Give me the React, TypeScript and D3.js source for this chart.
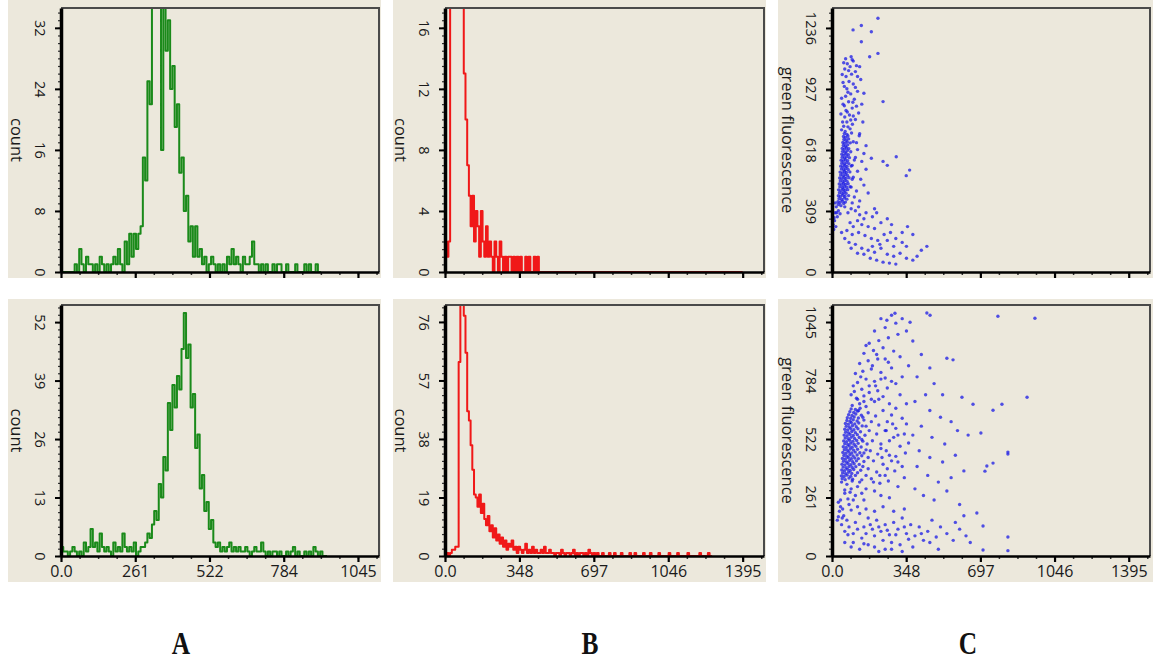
import { useEffect, useRef } from "react";
import * as d3 from "d3";

// channel width of every histogram bin
const binWidth = 8;

// green fluorescence histograms (column A)
const greenTop = [
  0, 0, 0, 0, 0, 0, 1, 0, 3, 1, 0, 2, 1, 1, 0, 1, 0, 2, 1, 0, 1, 0, 1, 2, 1, 3, 1, 0,
  4, 1, 5, 2, 5, 3, 5, 6, 15, 12, 25, 22, 38, 36, 40, 37, 16, 36, 29, 33, 24, 27, 19,
  22, 13, 15, 8, 10, 4, 6, 2, 6, 2, 3, 1, 2, 0, 1, 2, 1, 0, 1, 0, 1, 0, 2, 1, 3, 1, 2, 1,
  0, 2, 1, 1, 2, 4, 1, 1, 0, 1, 0, 1, 0, 0, 1, 0, 1, 1, 0, 0, 1, 0, 0, 0, 1, 0, 0, 0, 1,
  0, 1, 0, 0, 1, 0,
];
const greenBottom = [
  2, 1, 1, 0, 1, 2, 1, 0, 1, 0, 3, 1, 2, 6, 2, 3, 1, 5, 2, 1, 2, 1, 0, 3, 1, 2, 1, 5, 2,
  1, 2, 1, 3, 0, 1, 2, 2, 3, 5, 4, 7, 10, 8, 16, 13, 22, 19, 34, 28, 38, 33, 40, 37, 46,
  54, 44, 47, 33, 36, 24, 27, 15, 18, 10, 12, 6, 8, 3, 2, 3, 1, 2, 1, 2, 3, 1, 2, 1, 2, 1,
  1, 2, 1, 0, 1, 2, 1, 1, 3, 1, 0, 1, 0, 1, 1, 0, 1, 0, 0, 1, 0, 1, 2, 0, 1, 0, 0, 1, 0,
  1, 0, 2, 1, 0, 1, 0, 0,
];

// red fluorescence histograms (column B)
const redTop = [
  2, 1, 2, 30, 45, 60, 52, 48, 40, 32, 18, 13, 10, 7, 5, 3, 5, 2, 4, 3, 1, 4, 2, 1, 3, 1,
  2, 1, 0, 2, 1, 0, 2, 1, 0, 1, 0, 1, 1, 0, 1, 0, 1, 0, 1, 0, 0, 1, 0, 1, 0, 0, 1, 0, 1,
  0, 0,
];
const redBottom = [
  0, 1, 0, 1, 2, 2, 3, 3, 63, 95, 88, 78, 66, 47, 44, 36, 28, 20, 19, 16, 20, 14, 17, 12,
  10, 13, 8, 10, 6, 9, 5, 7, 4, 6, 3, 5, 2, 4, 3, 5, 2, 3, 1, 3, 2, 1, 2, 4, 1, 2, 1, 3,
  1, 2, 1, 1, 2, 1, 3, 1, 1, 2, 1, 1, 0, 1, 1, 0, 2, 1, 0, 1, 1, 0, 1, 2, 0, 1, 0, 1, 1,
  0, 1, 0, 2, 1, 0, 1, 0, 1, 0, 0, 1, 0, 0, 0, 1, 0, 0, 1, 0, 0, 0, 1, 0, 0, 0, 0, 1, 0,
  0, 1, 0, 0, 0, 0, 1, 0, 0, 0, 1, 0, 0, 0, 0, 1, 0, 0, 0, 0, 0, 1, 0, 0, 0, 0, 1, 0, 0,
  0, 0, 0, 1, 0, 0, 0, 0, 0, 0, 1, 0, 0, 0, 0, 1, 0,
];

// channel where each flat zero baseline stops
const greenTopEnd = 905;
const greenBottomEnd = 936;
const redTopEnd = 1395;
const redBottomEnd = 1245;

// red (x) vs green (y) fluorescence events (column C)
const dotsTop: [number, number][] = [
  [30, 342], [42, 336], [55, 347], [28, 356], [38, 352], [50, 359], [63, 354],
  [33, 371], [45, 367], [58, 374], [70, 369], [30, 386], [40, 382], [52, 389],
  [61, 384], [78, 387], [35, 401], [47, 397], [56, 404], [66, 399], [31, 416],
  [43, 412], [53, 419], [62, 414], [74, 417], [37, 431], [49, 427], [58, 434],
  [69, 429], [85, 432], [34, 446], [45, 442], [55, 449], [64, 444], [76, 447],
  [39, 461], [51, 457], [60, 464], [71, 459], [36, 476], [47, 472], [57, 479],
  [66, 474], [80, 477], [95, 470], [41, 491], [52, 487], [62, 494], [73, 489],
  [38, 506], [49, 502], [59, 509], [68, 504], [84, 507], [44, 521], [55, 517],
  [64, 524], [76, 519], [41, 536], [51, 532], [61, 539], [71, 534], [90, 537],
  [46, 551], [57, 547], [67, 554], [79, 549], [43, 566], [53, 562], [63, 569],
  [74, 564], [105, 567], [48, 581], [59, 577], [69, 584], [82, 579], [46, 596],
  [56, 592], [66, 599], [77, 594], [50, 611], [61, 607], [72, 614], [88, 609],
  [48, 626], [58, 622], [68, 629], [79, 624], [53, 641], [63, 637], [74, 644],
  [51, 656], [61, 652], [72, 659], [86, 654], [56, 671], [66, 667], [78, 674],
  [54, 686], [64, 682], [75, 689], [58, 701], [70, 697], [92, 704],
  [62, 712], [85, 725], [55, 738], [96, 748], [70, 760], [110, 772], [60, 785],
  [82, 795], [125, 805], [66, 818], [95, 830], [58, 842], [140, 850], [78, 862],
  [105, 875], [64, 890], [88, 902], [120, 915], [70, 928], [58, 940], [100, 952],
  [80, 965], [135, 975], [66, 990], [92, 1002], [110, 1015], [60, 1028], [85, 1040],
  [72, 1055], [100, 1068], [64, 1080], [90, 1090], [115, 1045], [150, 905],
  [240, 863], [130, 700], [145, 760], [160, 640], [150, 600], [185, 576],
  [115, 655], [128, 690], [216, 1285], [99, 1226], [138, 1248], [185, 1217],
  [138, 1166], [177, 1090], [216, 1107], [302, 584], [365, 516], [349, 488],
  [240, 560], [260, 540], [5, 240], [12, 260], [8, 215], [18, 230], [25, 280],
  [15, 300], [30, 310], [38, 295], [10, 275], [60, 330], [90, 320], [75, 300],
  [110, 310], [130, 290], [160, 300], [120, 260], [150, 270], [190, 280],
  [210, 300], [85, 250], [100, 230], [140, 240], [170, 230], [200, 220], [230, 250],
  [260, 270], [280, 240], [70, 210], [95, 190], [125, 200], [155, 185], [185, 170],
  [215, 160], [245, 190], [275, 200], [300, 170], [330, 150], [350, 130], [380, 190],
  [420, 110], [446, 130], [60, 170], [80, 150], [110, 140], [140, 120], [170, 110],
  [200, 100], [230, 120], [260, 90], [290, 80], [320, 95], [350, 70], [380, 60],
  [150, 90], [180, 70], [210, 60], [240, 50], [270, 45], [300, 40], [120, 95],
  [90, 120], [400, 80], [330, 200], [355, 230], [290, 130], [225, 140], [260, 160],
  [190, 130], [45, 200],
  [45, 720], [75, 735], [50, 760], [88, 770], [42, 800], [72, 810], [100, 790],
  [52, 850], [115, 840], [45, 880], [98, 860], [75, 910], [52, 960], [110, 935],
  [48, 1000], [78, 1020], [120, 990], [55, 1060], [95, 1075], [130, 1040],
  [100, 660], [120, 620], [110, 580], [140, 560], [95, 540], [120, 510], [160, 520],
  [100, 480], [135, 470], [90, 430], [115, 410], [150, 440], [105, 380], [130, 360],
  [170, 400], [95, 350], [125, 330], [200, 320], [20, 330], [22, 300], [15, 350],
];

const dotsBottom: [number, number][] = [
  [48, 345], [62, 341], [80, 348], [97, 343], [44, 358], [57, 355], [71, 361],
  [88, 356], [110, 360], [50, 371], [64, 368], [78, 374], [93, 369], [120, 372],
  [46, 384], [59, 381], [73, 387], [86, 382], [102, 386], [135, 383], [52, 397],
  [66, 394], [80, 400], [95, 395], [112, 399], [47, 410], [61, 407], [75, 413],
  [89, 408], [104, 412], [128, 409], [54, 423], [68, 420], [82, 426], [97, 421],
  [115, 425], [150, 422], [49, 436], [63, 433], [77, 439], [91, 434], [107, 438],
  [124, 435], [56, 449], [70, 446], [84, 452], [99, 447], [118, 451], [140, 448],
  [51, 462], [65, 459], [79, 465], [93, 460], [109, 464], [131, 461], [58, 475],
  [72, 472], [86, 478], [101, 473], [120, 477], [160, 474], [53, 488], [67, 485],
  [81, 491], [95, 486], [112, 490], [137, 487], [60, 501], [74, 498], [88, 504],
  [104, 499], [123, 503], [55, 514], [69, 511], [83, 517], [98, 512], [116, 516],
  [145, 513], [62, 527], [76, 524], [90, 530], [106, 525], [128, 529], [57, 540],
  [71, 537], [85, 543], [100, 538], [119, 542], [155, 539], [64, 553], [78, 550],
  [93, 556], [110, 551], [134, 555], [60, 566], [74, 563], [88, 569], [103, 564],
  [122, 568], [67, 579], [81, 576], [96, 582], [114, 577], [142, 581], [63, 592],
  [77, 589], [91, 595], [107, 590], [126, 594], [70, 605], [85, 602], [100, 608],
  [118, 603], [150, 607], [72, 618], [88, 615], [104, 621], [124, 616], [78, 631],
  [94, 628], [112, 634], [138, 629], [84, 644], [102, 641], [120, 647], [90, 657],
  [110, 654], [132, 660],
  [95, 672], [130, 680], [160, 668], [200, 690], [115, 705], [150, 715], [185, 700],
  [240, 712], [105, 735], [140, 745], [175, 760], [215, 738], [260, 750], [120, 775],
  [160, 790], [200, 780], [250, 795], [300, 770], [110, 815], [145, 825], [185, 835],
  [230, 820], [280, 840], [130, 860], [170, 872], [215, 880], [265, 865], [320, 890],
  [150, 905], [195, 918], [240, 930], [290, 915], [175, 950], [220, 962], [265, 975],
  [310, 990], [200, 1005], [250, 1020], [300, 1040], [230, 1060], [280, 1075],
  [350, 1005], [330, 1060], [258, 1053], [296, 1084], [367, 1044], [446, 1085],
  [461, 1075], [540, 883], [569, 876], [611, 709],
  [170, 640], [205, 625], [240, 650], [280, 630], [330, 615], [185, 600], [220, 585],
  [260, 600], [300, 570], [350, 590], [175, 560], [210, 545], [250, 560], [290, 530],
  [340, 545], [190, 515], [230, 500], [270, 515], [320, 490], [360, 505], [180, 470],
  [215, 455], [255, 470], [300, 445], [345, 460], [195, 425], [240, 410], [280, 425],
  [330, 400], [170, 390], [210, 375], [250, 360], [295, 380], [340, 350], [185, 345],
  [225, 325], [265, 335], [310, 310], [160, 300], [200, 290],
  [45, 330], [70, 320], [95, 335], [120, 310], [60, 295], [85, 285], [110, 270],
  [140, 280], [230, 270], [270, 260], [40, 250], [75, 255], [150, 250],
  [380, 960], [420, 900], [460, 840], [400, 800], [480, 770], [520, 720], [440, 720],
  [390, 690], [460, 650], [510, 620], [560, 600], [420, 580], [380, 540], [470, 530],
  [530, 500], [590, 560], [640, 540], [410, 470], [460, 440], [520, 420], [580, 450],
  [400, 400], [450, 360], [500, 330], [560, 350], [620, 380], [390, 300], [430, 270],
  [480, 250], [540, 290], [600, 230], [663, 678], [757, 651], [799, 678], [917, 709],
  [700, 549], [827, 464], [827, 455], [728, 402], [757, 415], [719, 379], [780, 1071],
  [954, 1062], [681, 192], [710, 134], [827, 85], [710, 27], [827, 24],
  [40, 220], [55, 180], [30, 175], [70, 160], [90, 205], [110, 150], [130, 190],
  [150, 130], [170, 170], [190, 120], [210, 160], [230, 110], [250, 140], [270, 95],
  [290, 150], [310, 120], [330, 170], [350, 100], [370, 140], [390, 90], [410, 130],
  [430, 70], [450, 110], [470, 160], [490, 85], [510, 130], [540, 100], [570, 70],
  [600, 120], [630, 90], [60, 110], [80, 130], [100, 100], [120, 120], [140, 80],
  [160, 100], [180, 140], [200, 90], [220, 130], [240, 70], [260, 115], [280, 60],
  [300, 95], [320, 50], [340, 130], [360, 75], [380, 40], [420, 100], [460, 60],
  [500, 30], [200, 40], [150, 55], [250, 30], [100, 60], [330, 20], [580, 150],
  [620, 180], [650, 60], [45, 140], [75, 95], [30, 240], [35, 200], [48, 170], [25, 160],
  [150, 690], [125, 650], [145, 620], [160, 580], [140, 520], [165, 500], [150, 460],
  [170, 440], [145, 400], [160, 360], [140, 340], [120, 700], [100, 760], [135, 800],
  [90, 720], [175, 730], [205, 760], [230, 790], [190, 850], [160, 940], [210, 900],
  [250, 880], [220, 700], [270, 680], [300, 660], [320, 720], [350, 680], [280, 780],
  [330, 800], [360, 850], [255, 560], [285, 590], [310, 540], [230, 480], [270, 450],
  [310, 420], [235, 440], [260, 390], [225, 360], [195, 330], [60, 280], [90, 300],
  [130, 330], [100, 250], [50, 210], [80, 230], [120, 220], [160, 210], [200, 200],
  [240, 220], [290, 200], [340, 210], [60, 60], [90, 40], [130, 30], [170, 50],
  [220, 20], [280, 30],
];

// axis ticks and their printed labels
const xTicksA = [0, 261.25, 522.5, 783.75, 1045];
const xLabelsA = ["0.0", "261", "522", "784", "1045"];
const xTicksBC = [0, 348.75, 697.5, 1046.25, 1395];
const xLabelsBC = ["0.0", "348", "697", "1046", "1395"];
const yTicksATop = [0, 8, 16, 24, 32];
const yTicksABottom = [0, 13, 26, 39, 52];
const yTicksBTop = [0, 4, 8, 12, 16];
const yTicksBBottom = [0, 19, 38, 57, 76];
const yTicksCTop = [0, 309, 618, 927, 1236];
const yTicksCBottom = [0, 261.25, 522.5, 783.75, 1045];
const yLabelsCBottom = ["0", "261", "522", "784", "1045"];

const panelLetters = ["A", "B", "C"];

const beige = "#ece8dc";
const green = "#1a8a1a";
const red = "#f01818";
const blue = "#1a1ae6";

const cols = [
  { left: 61, right: 379, bgLeft: 8, bgRight: 381, letterX: 181 },
  { left: 445, right: 764, bgLeft: 393, bgRight: 766, letterX: 590 },
  { left: 832, right: 1150, bgLeft: 778, bgRight: 1153, letterX: 968 },
];
const rows = [
  { top: 8, bottom: 272, bgTop: 0, bgBottom: 278 },
  { top: 305, bottom: 556, bgTop: 299, bgBottom: 582 },
];

const App = () => {
  const svgRef = useRef<SVGSVGElement>(null);

  useEffect(() => {
    const svg = d3.select(svgRef.current);
    svg.selectAll("*").remove();

    const panels = [
      { c: 0, r: 0, xMax: 1119, yMax: 34.6, xTicks: xTicksA, xLabels: null, yTicks: yTicksATop, yLabels: null, title: "count", hist: greenTop, end: greenTopEnd, color: green },
      { c: 0, r: 1, xMax: 1119, yMax: 55.8, xTicks: xTicksA, xLabels: xLabelsA, yTicks: yTicksABottom, yLabels: null, title: "count", hist: greenBottom, end: greenBottomEnd, color: green },
      { c: 1, r: 0, xMax: 1495, yMax: 17.3, xTicks: xTicksBC, xLabels: null, yTicks: yTicksBTop, yLabels: null, title: "count", hist: redTop, end: redTopEnd, color: red },
      { c: 1, r: 1, xMax: 1495, yMax: 81.5, xTicks: xTicksBC, xLabels: xLabelsBC, yTicks: yTicksBBottom, yLabels: null, title: "count", hist: redBottom, end: redBottomEnd, color: red },
      { c: 2, r: 0, xMax: 1495, yMax: 1337, xTicks: xTicksBC, xLabels: null, yTicks: yTicksCTop, yLabels: null, title: "green fluorescence", dots: dotsTop },
      { c: 2, r: 1, xMax: 1495, yMax: 1121, xTicks: xTicksBC, xLabels: xLabelsBC, yTicks: yTicksCBottom, yLabels: yLabelsCBottom, title: "green fluorescence", dots: dotsBottom },
    ];

    panels.forEach((p: any, k) => {
      const col = cols[p.c];
      const row = rows[p.r];
      const g = svg.append("g");

      g.append("rect")
        .attr("x", col.bgLeft)
        .attr("y", row.bgTop)
        .attr("width", col.bgRight - col.bgLeft)
        .attr("height", row.bgBottom - row.bgTop)
        .attr("fill", beige);

      const x = d3.scaleLinear().domain([0, p.xMax]).range([col.left, col.right]);
      const y = d3.scaleLinear().domain([0, p.yMax]).range([row.bottom, row.top]);

      const clipId = `clip-${k}`;
      g.append("clipPath")
        .attr("id", clipId)
        .append("rect")
        .attr("x", col.left)
        .attr("y", row.top)
        .attr("width", col.right - col.left)
        .attr("height", row.bottom - row.top);

      const body = g.append("g").attr("clip-path", `url(#${clipId})`);

      if (p.hist) {
        const pts: [number, number][] = p.hist.map((v: number, i: number) => [i * binWidth, v]);
        pts.push([p.hist.length * binWidth, 0]);
        pts.push([p.end, 0]);
        const line = d3
          .line<[number, number]>()
          .x((d) => x(d[0]))
          .y((d) => y(d[1]))
          .curve(d3.curveStepAfter);
        body
          .append("path")
          .attr("d", line(pts))
          .attr("fill", "none")
          .attr("stroke", p.color)
          .attr("stroke-width", 2)
          .attr("stroke-linejoin", "round");
      }

      if (p.dots) {
        body
          .append("g")
          .selectAll("circle")
          .data(p.dots)
          .join("circle")
          .attr("cx", (d: any) => x(d[0]))
          .attr("cy", (d: any) => y(d[1]))
          .attr("r", 1.7)
          .attr("fill", blue)
          .attr("fill-opacity", 0.75);
      }

      // frame: top and right edges
      g.append("path")
        .attr("d", `M${col.left},${row.top}H${col.right}V${row.bottom}`)
        .attr("fill", "none")
        .attr("stroke", "#4a4a4a")
        .attr("stroke-width", 2);

      // y axis, minor then major ticks
      const yStep = p.yTicks[1] / 8;
      const yMinor = d3.range(0, p.yMax, yStep);
      g.append("g")
        .attr("transform", `translate(${col.left},0)`)
        .call(d3.axisLeft(y).tickValues(yMinor).tickSize(3).tickFormat(() => ""))
        .call((a) => a.select(".domain").remove())
        .selectAll("line")
        .attr("stroke", "#333")
        .attr("stroke-width", 1.2);

      const yAxis = g
        .append("g")
        .attr("transform", `translate(${col.left},0)`)
        .call(
          d3
            .axisLeft(y)
            .tickValues(p.yTicks)
            .tickSize(6)
            .tickSizeOuter(0)
            .tickFormat((d: any, i: number) => (p.yLabels ? p.yLabels[i] : String(d)))
        );
      yAxis.select(".domain").attr("stroke", "#000").attr("stroke-width", 3.5);
      yAxis.selectAll("line").attr("stroke", "#000").attr("stroke-width", 2);
      yAxis
        .selectAll("text")
        .attr("x", 0)
        .attr("dy", "0.36em")
        .attr("text-anchor", "middle")
        .attr("transform", "translate(-21,0) rotate(90)")
        .attr("font-family", "'Open Sans', sans-serif")
        .attr("font-size", 14.5)
        .attr("fill", "#1a1a1a");

      g.append("text")
        .attr("transform", `translate(${col.left - 44},${(row.top + row.bottom) / 2}) rotate(90)`)
        .attr("dy", "0.36em")
        .attr("text-anchor", "middle")
        .attr("font-family", "'Open Sans', sans-serif")
        .attr("font-size", 16.5)
        .attr("fill", "#1a1a1a")
        .text(p.title);

      // x axis
      const xStep = p.xTicks[1] / 4;
      const xMinor = d3.range(0, p.xMax, xStep);
      g.append("g")
        .attr("transform", `translate(0,${row.bottom})`)
        .call(d3.axisBottom(x).tickValues(xMinor).tickSize(3).tickFormat(() => ""))
        .call((a) => a.select(".domain").remove())
        .selectAll("line")
        .attr("stroke", "#333")
        .attr("stroke-width", 1.5);

      const xAxis = g
        .append("g")
        .attr("transform", `translate(0,${row.bottom})`)
        .call(
          d3
            .axisBottom(x)
            .tickValues(p.xTicks)
            .tickSize(6)
            .tickSizeOuter(0)
            .tickFormat((d: any, i: number) => (p.xLabels ? p.xLabels[i] : ""))
        );
      xAxis.select(".domain").attr("stroke", "#000").attr("stroke-width", 2.5);
      xAxis.selectAll("line").attr("stroke", "#000").attr("stroke-width", 2.2);
      xAxis
        .selectAll("text")
        .attr("y", 10)
        .attr("font-family", "'Open Sans', sans-serif")
        .attr("font-size", 16)
        .attr("fill", "#1a1a1a");
    });

    cols.forEach((col, i) => {
      svg
        .append("text")
        .attr("transform", `translate(${col.letterX},654) scale(0.82,1)`)
        .attr("text-anchor", "middle")
        .attr("font-family", "'Liberation Serif', serif")
        .attr("font-weight", "bold")
        .attr("font-size", 31)
        .attr("fill", "#111")
        .text(panelLetters[i]);
    });
  }, []);

  return (
    <svg
      ref={svgRef}
      width={1153}
      height={662}
      style={{ position: "absolute", left: 0, top: 0, background: "#fff" }}
    />
  );
};

export default App;
